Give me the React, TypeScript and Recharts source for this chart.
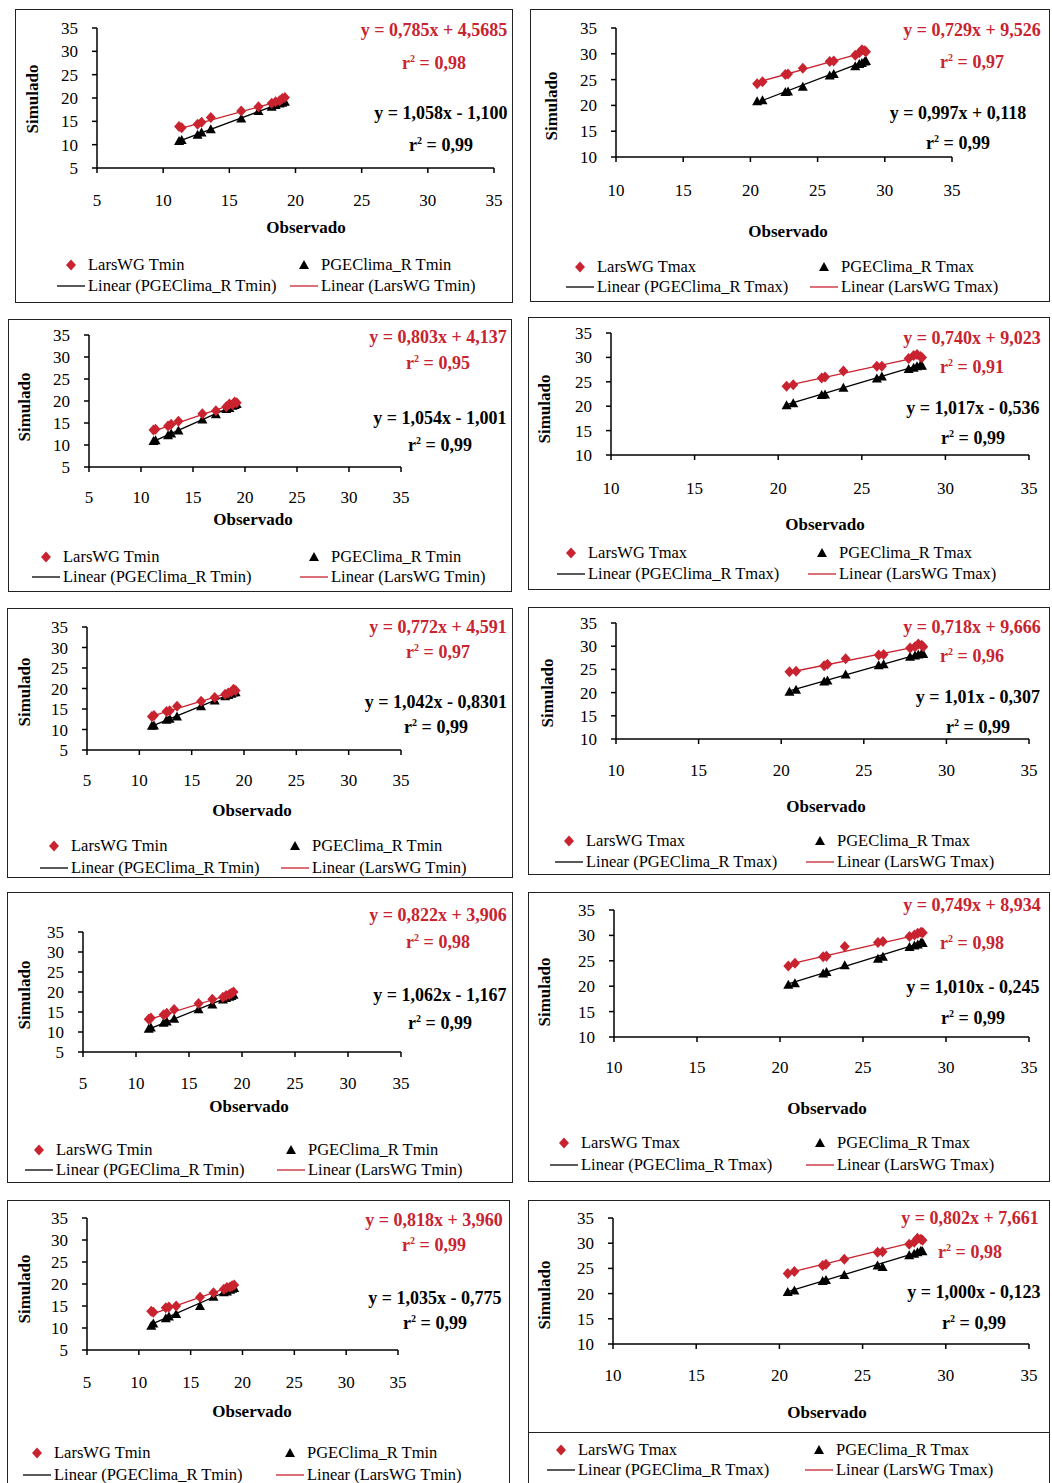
import React from 'react';
import { ScatterChart, Scatter, XAxis, YAxis, ReferenceLine } from 'recharts';

// observed monthly means (x axis)
const TMIN_OBS = [11.2, 11.4, 12.6, 12.9, 13.6, 15.9, 17.2, 18.2, 18.5, 18.8, 19.0, 19.2];
const TMAX_OBS = [20.5, 20.9, 22.6, 22.8, 23.9, 25.9, 26.2, 27.8, 28.1, 28.3, 28.5, 28.6];

const TMIN_TICKS = [5, 10, 15, 20, 25, 30, 35];
const TMAX_TICKS = [10, 15, 20, 25, 30, 35];

// simulated values, one list per panel (left column Tmin, right column Tmax)
const LARS_SIM = [
  [13.9, 13.6, 14.4, 14.8, 15.8, 17.2, 18.1, 18.9, 19.2, 19.4, 19.9, 20.1],
  [24.2, 24.6, 26.0, 26.1, 27.2, 28.5, 28.6, 29.7, 30.2, 30.8, 30.6, 30.4],
  [13.4, 13.6, 14.3, 14.7, 15.4, 17.1, 17.8, 18.7, 19.3, 19.2, 19.8, 19.6],
  [24.1, 24.4, 25.8, 26.0, 27.2, 28.2, 28.2, 29.8, 30.4, 30.6, 30.2, 30.0],
  [13.2, 13.4, 14.4, 14.6, 15.7, 16.9, 17.8, 18.6, 18.9, 19.2, 19.8, 19.5],
  [24.5, 24.6, 25.8, 26.1, 27.3, 28.1, 28.2, 29.6, 29.9, 30.5, 30.2, 29.9],
  [13.2, 13.5, 14.3, 14.7, 15.6, 17.1, 18.2, 18.7, 19.1, 19.4, 19.7, 20.0],
  [24.0, 24.5, 25.8, 25.9, 27.8, 28.6, 28.8, 29.8, 30.1, 30.4, 30.6, 30.5],
  [13.8, 13.6, 14.6, 14.8, 15.0, 17.0, 18.0, 18.8, 19.2, 19.3, 19.6, 19.8],
  [24.0, 24.4, 25.6, 25.8, 26.8, 28.2, 28.3, 29.8, 30.2, 31.0, 30.8, 30.6],
];
const PGE_SIM = [
  [10.8, 11.0, 12.1, 12.6, 13.3, 15.6, 17.2, 18.1, 18.5, 18.8, 19.0, 19.2],
  [20.8, 21.0, 22.6, 22.7, 23.6, 25.8, 26.1, 27.6, 28.0, 28.2, 28.5, 28.6],
  [10.9, 11.1, 12.2, 12.6, 13.3, 15.8, 17.0, 18.2, 18.4, 18.9, 19.1, 19.3],
  [20.2, 20.6, 22.3, 22.4, 23.8, 25.7, 26.1, 27.6, 27.9, 28.2, 28.4, 28.3],
  [10.9, 11.0, 12.4, 12.6, 13.2, 15.7, 17.1, 18.1, 18.4, 18.7, 19.0, 19.1],
  [20.2, 20.6, 22.4, 22.6, 23.9, 25.9, 26.1, 27.7, 28.0, 28.2, 28.4, 28.3],
  [10.8, 11.1, 12.3, 12.6, 13.3, 15.7, 16.9, 18.1, 18.5, 18.8, 19.0, 19.3],
  [20.3, 20.6, 22.5, 22.8, 24.1, 25.4, 25.8, 27.7, 28.0, 28.2, 28.6, 28.5],
  [10.5, 11.0, 12.2, 12.6, 13.2, 15.0, 17.1, 18.1, 18.3, 18.7, 18.9, 19.1],
  [20.3, 20.6, 22.5, 22.7, 23.7, 25.6, 25.3, 27.6, 27.9, 28.2, 28.5, 28.4],
];

// regression lines as printed on each panel
const LARS_SLOPE = [0.785, 0.729, 0.803, 0.74, 0.772, 0.718, 0.822, 0.749, 0.818, 0.802];
const LARS_INTERCEPT = [4.5685, 9.526, 4.137, 9.023, 4.591, 9.666, 3.906, 8.934, 3.96, 7.661];
const LARS_EQ = [
  'y = 0,785x + 4,5685', 'y = 0,729x + 9,526', 'y = 0,803x + 4,137', 'y = 0,740x + 9,023',
  'y = 0,772x + 4,591', 'y = 0,718x + 9,666', 'y = 0,822x + 3,906', 'y = 0,749x + 8,934',
  'y = 0,818x + 3,960', 'y = 0,802x + 7,661',
];
const LARS_R2 = ['0,98', '0,97', '0,95', '0,91', '0,97', '0,96', '0,98', '0,98', '0,99', '0,98'];

const PGE_SLOPE = [1.058, 0.997, 1.054, 1.017, 1.042, 1.01, 1.062, 1.01, 1.035, 1.0];
const PGE_INTERCEPT = [-1.1, 0.118, -1.001, -0.536, -0.8301, -0.307, -1.167, -0.245, -0.775, -0.123];
const PGE_EQ = [
  'y = 1,058x - 1,100', 'y = 0,997x + 0,118', 'y = 1,054x - 1,001', 'y = 1,017x - 0,536',
  'y = 1,042x - 0,8301', 'y = 1,01x - 0,307', 'y = 1,062x - 1,167', 'y = 1,010x - 0,245',
  'y = 1,035x - 0,775', 'y = 1,000x - 0,123',
];
const PGE_R2 = ['0,99', '0,99', '0,99', '0,99', '0,99', '0,99', '0,99', '0,99', '0,99', '0,99'];

const RED = '#c8232f';
const FONT = '"Liberation Serif", "Times New Roman", serif';

// page-pixel layout of each panel
const LAYOUT = [
  { l: 15, t: 9, r: 513, b: 303, ax: 97, ay: 168, yTop: 28, xEnd: 494, tickY: 200, obs: [306, 228], sim: [33, 99], eqR: [434, 30, 63], eqB: [441, 113, 145], lg: [57, 290, 265, 286] },
  { l: 530, t: 9, r: 1050, b: 302, ax: 616, ay: 157, yTop: 28, xEnd: 952, tickY: 190, obs: [788, 232], sim: [552, 106], eqR: [972, 30, 62], eqB: [958, 113, 143], lg: [566, 810, 267, 287] },
  { l: 8, t: 319, r: 512, b: 592, ax: 89, ay: 467, yTop: 335, xEnd: 401, tickY: 497, obs: [253, 520], sim: [25, 407], eqR: [438, 337, 363], eqB: [440, 418, 445], lg: [32, 300, 557, 577] },
  { l: 528, t: 317, r: 1050, b: 590, ax: 611, ay: 455, yTop: 333, xEnd: 1029, tickY: 488, obs: [825, 525], sim: [545, 409], eqR: [972, 338, 367], eqB: [973, 408, 438], lg: [557, 808, 553, 574] },
  { l: 7, t: 608, r: 513, b: 878, ax: 87, ay: 750, yTop: 627, xEnd: 401, tickY: 780, obs: [252, 811], sim: [25, 692], eqR: [438, 627, 652], eqB: [436, 702, 727], lg: [40, 281, 846, 868] },
  { l: 528, t: 607, r: 1050, b: 875, ax: 616, ay: 739, yTop: 623, xEnd: 1029, tickY: 770, obs: [826, 807], sim: [548, 693], eqR: [972, 627, 656], eqB: [978, 697, 727], lg: [555, 806, 841, 862] },
  { l: 7, t: 892, r: 513, b: 1183, ax: 83, ay: 1052, yTop: 932, xEnd: 401, tickY: 1083, obs: [249, 1107], sim: [25, 995], eqR: [438, 915, 942], eqB: [440, 995, 1023], lg: [25, 277, 1150, 1170] },
  { l: 528, t: 892, r: 1050, b: 1182, ax: 614, ay: 1037, yTop: 910, xEnd: 1029, tickY: 1067, obs: [827, 1109], sim: [545, 992], eqR: [972, 905, 943], eqB: [973, 987, 1018], lg: [550, 806, 1143, 1165] },
  { l: 7, t: 1200, r: 510, b: 1495, ax: 87, ay: 1350, yTop: 1218, xEnd: 398, tickY: 1382, obs: [252, 1412], sim: [25, 1289], eqR: [434, 1220, 1245], eqB: [435, 1298, 1323], lg: [23, 276, 1453, 1475] },
  { l: 528, t: 1200, r: 1050, b: 1495, ax: 613, ay: 1344, yTop: 1218, xEnd: 1029, tickY: 1375, obs: [827, 1413], sim: [545, 1295], eqR: [970, 1218, 1252], eqB: [974, 1292, 1323], lg: [547, 805, 1450, 1470], legendBox: 1432 },
];

const Diamond = (props: any) => {
  const { cx, cy } = props;
  return <polygon points={`${cx},${cy - 5.5} ${cx + 5},${cy} ${cx},${cy + 5.5} ${cx - 5},${cy}`} fill={RED} />;
};

const Triangle = (props: any) => {
  const { cx, cy } = props;
  return <polygon points={`${cx},${cy - 5} ${cx + 5},${cy + 4} ${cx - 5},${cy + 4}`} fill="#000" />;
};

const abs = (x: number, y: number, extra: React.CSSProperties = {}): React.CSSProperties => ({
  position: 'absolute',
  left: x,
  top: y,
  whiteSpace: 'nowrap',
  fontFamily: FONT,
  ...extra,
});

const Equation = ({ x, y1, y2, eq, r2, color }: any) => (
  <>
    <div style={abs(x, y1, { transform: 'translate(-50%, -50%)', fontWeight: 'bold', fontSize: 18, color })}>{eq}</div>
    <div style={abs(x, y2, { transform: 'translate(-50%, -50%)', fontWeight: 'bold', fontSize: 18, color })}>
      r<sup style={{ fontSize: 10 }}>2</sup> = {r2}
    </div>
  </>
);

const LegendRow = ({ x, y, kind, label }: any) => (
  <>
    <svg style={{ position: 'absolute', left: x, top: y - 6 }} width={28} height={12}>
      {kind === 'diamond' && <Diamond cx={14} cy={6} />}
      {kind === 'triangle' && <Triangle cx={14} cy={6} />}
      {kind === 'black' && <line x1={0} x2={28} y1={6} y2={6} stroke="#000" strokeWidth={1.3} />}
      {kind === 'red' && <line x1={0} x2={28} y1={6} y2={6} stroke={RED} strokeWidth={1.3} />}
    </svg>
    <div style={abs(x + 31, y, { transform: 'translateY(-50%)', fontSize: 16.5, color: '#000' })}>{label}</div>
  </>
);

const Panel = ({ i }: { i: number }) => {
  const g = LAYOUT[i];
  const isMax = i % 2 === 1;
  const obsX = isMax ? TMAX_OBS : TMIN_OBS;
  const ticks = isMax ? TMAX_TICKS : TMIN_TICKS;
  const dom: [number, number] = [ticks[0], ticks[ticks.length - 1]];
  const lars = obsX.map((x, k) => ({ x, y: LARS_SIM[i][k] }));
  const pge = obsX.map((x, k) => ({ x, y: PGE_SIM[i][k] }));
  const x0 = Math.min(...obsX);
  const x1 = Math.max(...obsX);
  const w = g.r - g.l;
  const h = g.b - g.t;
  const tag = isMax ? 'Tmax' : 'Tmin';
  const tickStyle = { fontSize: 17, fill: '#000', fontFamily: FONT };
  const px = (x: number) => x - g.l;
  const py = (y: number) => y - g.t;

  return (
    <div style={{ position: 'absolute', left: g.l, top: g.t, width: w, height: h, background: '#fff' }}>
      <ScatterChart width={w} height={h} margin={{ top: g.yTop - g.t, right: w - (g.xEnd - g.l), left: 0, bottom: 0 }}>
        <XAxis
          type="number"
          dataKey="x"
          domain={dom}
          ticks={ticks}
          allowDataOverflow
          height={g.b - g.ay}
          axisLine={{ stroke: '#000', strokeWidth: 1.5 }}
          tickLine={{ stroke: '#000', strokeWidth: 1.5 }}
          tickSize={5}
          tickMargin={g.tickY - g.ay - 11}
          tick={tickStyle}
          interval={0}
        />
        <YAxis
          type="number"
          dataKey="y"
          domain={dom}
          ticks={ticks}
          allowDataOverflow
          width={g.ax - g.l}
          axisLine={{ stroke: '#000', strokeWidth: 1.5 }}
          tickLine={{ stroke: '#000', strokeWidth: 1.5 }}
          tickSize={5}
          tickMargin={14}
          tick={tickStyle}
          interval={0}
        />
        <ReferenceLine
          segment={[{ x: x0, y: PGE_SLOPE[i] * x0 + PGE_INTERCEPT[i] }, { x: x1, y: PGE_SLOPE[i] * x1 + PGE_INTERCEPT[i] }]}
          stroke="#000"
          strokeWidth={1.3}
        />
        <ReferenceLine
          segment={[{ x: x0, y: LARS_SLOPE[i] * x0 + LARS_INTERCEPT[i] }, { x: x1, y: LARS_SLOPE[i] * x1 + LARS_INTERCEPT[i] }]}
          stroke={RED}
          strokeWidth={1.3}
        />
        <Scatter data={pge} shape={Triangle} isAnimationActive={false} />
        <Scatter data={lars} shape={Diamond} isAnimationActive={false} />
      </ScatterChart>

      <div style={abs(px(g.obs[0]), py(g.obs[1]), { transform: 'translate(-50%, -50%)', fontWeight: 'bold', fontSize: 17 })}>Observado</div>
      <div style={abs(px(g.sim[0]), py(g.sim[1]), { transform: 'translate(-50%, -50%) rotate(-90deg)', fontWeight: 'bold', fontSize: 17 })}>Simulado</div>

      <Equation x={px(g.eqR[0])} y1={py(g.eqR[1])} y2={py(g.eqR[2])} eq={LARS_EQ[i]} r2={LARS_R2[i]} color={RED} />
      <Equation x={px(g.eqB[0])} y1={py(g.eqB[1])} y2={py(g.eqB[2])} eq={PGE_EQ[i]} r2={PGE_R2[i]} color="#000" />

      {g.legendBox && (
        <div style={{ position: 'absolute', left: 0, top: py(g.legendBox), width: w, height: h - py(g.legendBox), border: '1.5px solid #222', boxSizing: 'border-box' }} />
      )}
      <LegendRow x={px(g.lg[0])} y={py(g.lg[2])} kind="diamond" label={`LarsWG ${tag}`} />
      <LegendRow x={px(g.lg[1])} y={py(g.lg[2])} kind="triangle" label={`PGEClima_R ${tag}`} />
      <LegendRow x={px(g.lg[0])} y={py(g.lg[3])} kind="black" label={`Linear (PGEClima_R ${tag})`} />
      <LegendRow x={px(g.lg[1])} y={py(g.lg[3])} kind="red" label={`Linear (LarsWG ${tag})`} />

      <div style={{ position: 'absolute', left: 0, top: 0, width: w, height: h, border: '1.5px solid #222', boxSizing: 'border-box', pointerEvents: 'none' }} />
    </div>
  );
};

export default function App() {
  return (
    <div style={{ position: 'absolute', left: 0, top: 0, width: 1052, height: 1483, overflow: 'hidden', background: '#fff' }}>
      {LAYOUT.map((_, i) => (
        <Panel key={i} i={i} />
      ))}
    </div>
  );
}
